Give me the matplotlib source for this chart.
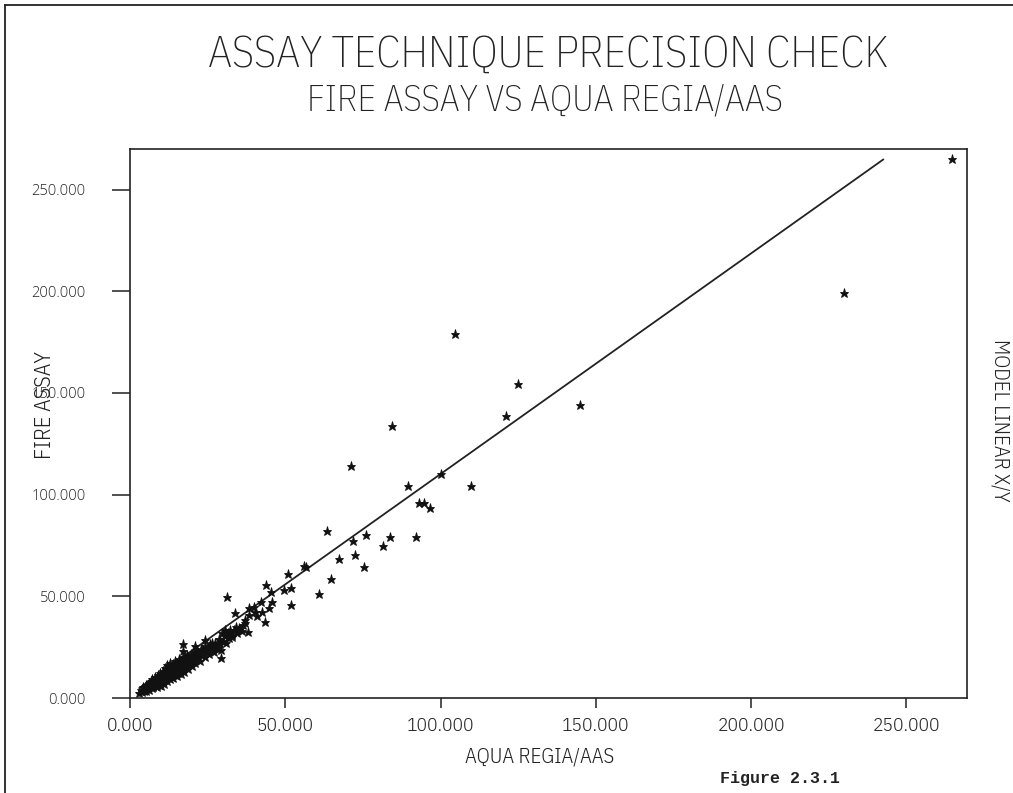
import matplotlib
matplotlib.use("Agg")
import matplotlib.pyplot as plt
from matplotlib.lines import Line2D

# ------------------------------
# data
# ------------------------------
# scattered points (above the dense cluster)
aqua_outer = [264.7, 229.9, 104.8, 124.9, 144.9, 121.2, 84.4, 71.0, 100.2, 89.5,
              109.9, 93.2, 94.8, 96.5, 63.4, 71.7, 76.0, 83.7, 92.2, 81.4,
              67.4, 72.4, 75.5, 55.9, 56.8, 50.9, 64.8, 61.0, 43.8, 45.4,
              49.5, 51.8, 51.8, 31.2, 33.9, 42.2, 45.7, 44.6, 38.2, 39.8,
              40.3, 38.2, 40.9, 42.5, 43.4, 37.1, 38.0, 35.5, 30.6, 32.3,
              29.6, 32.8, 29.0, 17.2, 17.2, 24.2, 21.0, 29.2, 29.2, 26.3,
              27.4, 23.1, 19.9, 22.0]
fire_outer = [265.0, 199.0, 178.8, 154.2, 144.0, 138.6, 133.9, 114.2, 110.0, 104.4,
              104.4, 95.7, 95.7, 93.3, 82.1, 77.3, 80.1, 79.0, 79.0, 74.7,
              68.2, 70.2, 64.6, 65.0, 64.2, 61.1, 58.5, 51.1, 55.6, 52.3,
              53.1, 53.9, 45.7, 49.5, 41.6, 47.3, 47.3, 44.1, 44.1, 44.9,
              42.4, 40.8, 40.3, 42.4, 37.2, 36.7, 32.6, 33.9, 33.4, 33.4,
              31.8, 30.1, 28.5, 26.5, 23.3, 28.5, 25.6, 23.6, 19.5, 26.9,
              24.4, 23.6, 20.3, 20.3]

# dense cluster near the origin
aqua_dense = [3.0, 3.5, 4.0, 4.2, 4.5, 5.0, 5.0, 5.3, 5.6, 6.0, 6.0, 6.2, 6.5, 6.8,
              7.0, 7.0, 7.2, 7.5, 7.6, 8.0, 8.0, 8.2, 8.5, 8.6, 8.8, 9.0, 9.0, 9.2,
              9.5, 9.6, 9.8, 10.0, 10.0, 10.2, 10.5, 10.6, 10.8, 11.0, 11.0, 11.2,
              11.5, 11.6, 11.8, 12.0, 12.0, 12.3, 12.5, 12.6, 12.8, 13.0, 13.0,
              13.2, 13.5, 13.6, 13.8, 14.0, 14.0, 14.2, 14.5, 14.6, 14.8, 15.0,
              15.0, 15.3, 15.5, 15.6, 15.8, 16.0, 16.0, 16.3, 16.5, 16.7, 17.0,
              17.0, 17.2, 17.5, 17.6, 18.0, 18.0, 18.3, 18.5, 18.8, 19.0, 19.2,
              19.5, 19.8, 20.0, 20.0, 20.5, 20.6, 21.0, 21.2, 21.5, 22.0, 22.0,
              22.5, 22.8, 23.0, 23.5, 24.0, 24.0, 24.5, 25.0, 25.5, 25.6, 26.0,
              26.5, 27.0, 27.5, 28.0, 28.5, 29.0, 30.0, 30.5, 31.0, 31.5, 32.0,
              33.0, 33.5, 34.0, 34.5, 35.0, 36.0, 36.5, 37.0]
fire_dense = [2.5, 4.0, 2.8, 5.5, 3.5, 4.5, 6.5, 3.2, 5.8, 4.0, 7.5, 5.2, 6.3, 8.5,
              4.8, 6.8, 9.5, 5.6, 7.8, 6.2, 8.8, 10.5, 7.2, 5.5, 9.6, 8.0, 11.5, 6.5,
              10.2, 7.6, 12.5, 9.0, 5.8, 11.0, 8.2, 13.5, 10.0, 7.0, 12.0, 14.8,
              9.5, 11.2, 13.0, 8.5, 16.0, 10.8, 12.5, 14.2, 9.2, 11.8, 17.2,
              13.6, 10.2, 15.0, 12.8, 16.5, 9.8, 14.0, 11.5, 18.0, 13.0, 15.5,
              10.8, 17.0, 12.5, 14.5, 19.2, 13.5, 16.2, 11.8, 18.0, 15.0, 14.0,
              17.5, 20.0, 12.8, 16.0, 18.5, 15.2, 21.0, 17.0, 14.5, 19.5, 16.5,
              21.8, 18.0, 15.8, 20.5, 22.5, 18.8, 17.0, 21.0, 23.5, 19.5, 22.0,
              18.0, 24.0, 21.0, 23.0, 20.0, 25.5, 22.5, 24.5, 21.5, 26.5, 23.8,
              25.5, 22.5, 27.0, 24.5, 29.0, 26.5, 28.0, 30.5, 27.0, 32.0, 29.5,
              31.0, 33.5, 35.0, 32.0, 34.5, 33.0, 36.0, 38.5]

# fitted linear model X/Y
fit_x = [3.0, 242.5]
fit_y = [4.9, 264.8]

ticks = [0, 50, 100, 150, 200, 250]

# ------------------------------
# plot
# ------------------------------
narrow = ['IBM Plex Sans Condensed', 'DejaVu Sans']
ink = '#222222'

fig = plt.figure(figsize=(10.13, 7.93), dpi=100)
ax = fig.add_axes([130 / 1013, 95 / 793, 837 / 1013, 549 / 793])

ax.plot(fit_x, fit_y, color=ink, lw=1.3)
ax.plot(aqua_dense + aqua_outer, fire_dense + fire_outer, ls='none',
        marker='*', ms=6.5, mfc='#111111', mec='#111111', mew=0.6)

ax.set_xlim(0, 269.5)
ax.set_ylim(0, 270)
ax.set_xticks(ticks)
ax.set_yticks(ticks)
ax.set_xticklabels([f"{t:.3f}" for t in ticks], family=narrow, fontweight=300,
                   fontsize=14, color=ink)
ax.set_yticklabels([f"{t:.3f}" for t in ticks], family=['Open Sans', 'DejaVu Sans'],
                   fontweight=300, fontsize=10.5, color='#333333')
ax.tick_params(axis='x', direction='out', length=7.5, width=1.1, pad=6, colors=ink)
ax.tick_params(axis='y', direction='out', length=13, width=1.1, pad=19, colors=ink)
for s in ax.spines.values():
    s.set_linewidth(1.2)
    s.set_color(ink)

# titles and axis labels
fig.text(548 / 1013, 1 - 55 / 793, "ASSAY TECHNIQUE PRECISION CHECK", family=narrow,
         fontweight=200, fontsize=31.5, ha='center', va='center', color=ink)
fig.text(545 / 1013, 1 - 100 / 793, "FIRE ASSAY VS AQUA REGIA/AAS", family=narrow,
         fontweight=200, fontsize=26, ha='center', va='center', color=ink)
fig.text(45 / 1013, 1 - 405 / 793, "FIRE ASSAY", family=narrow, fontweight=300,
         fontsize=16, rotation=90, ha='center', va='center', color=ink)
fig.text(540 / 1013, 1 - 757 / 793, "AQUA REGIA/AAS", family=narrow, fontweight=300,
         fontsize=15, ha='center', va='center', color=ink)
fig.text(1000 / 1013, 1 - 420 / 793, "MODEL LINEAR X/Y", family=narrow, fontweight=300,
         fontsize=15, rotation=-90, ha='center', va='center', color=ink)
fig.text(780 / 1013, 1 - 779 / 793, "Figure 2.3.1", family='Liberation Mono',
         fontsize=12, fontweight='bold', ha='center', va='center', color=ink)

# page border (scan edge)
fig.add_artist(Line2D([5 / 1013, 5 / 1013], [0, 1 - 5 / 793], color=ink, lw=1.3))
fig.add_artist(Line2D([5 / 1013, 1], [1 - 5 / 793, 1 - 5 / 793], color=ink, lw=1.3))

fig.savefig("out.png", dpi=100)
